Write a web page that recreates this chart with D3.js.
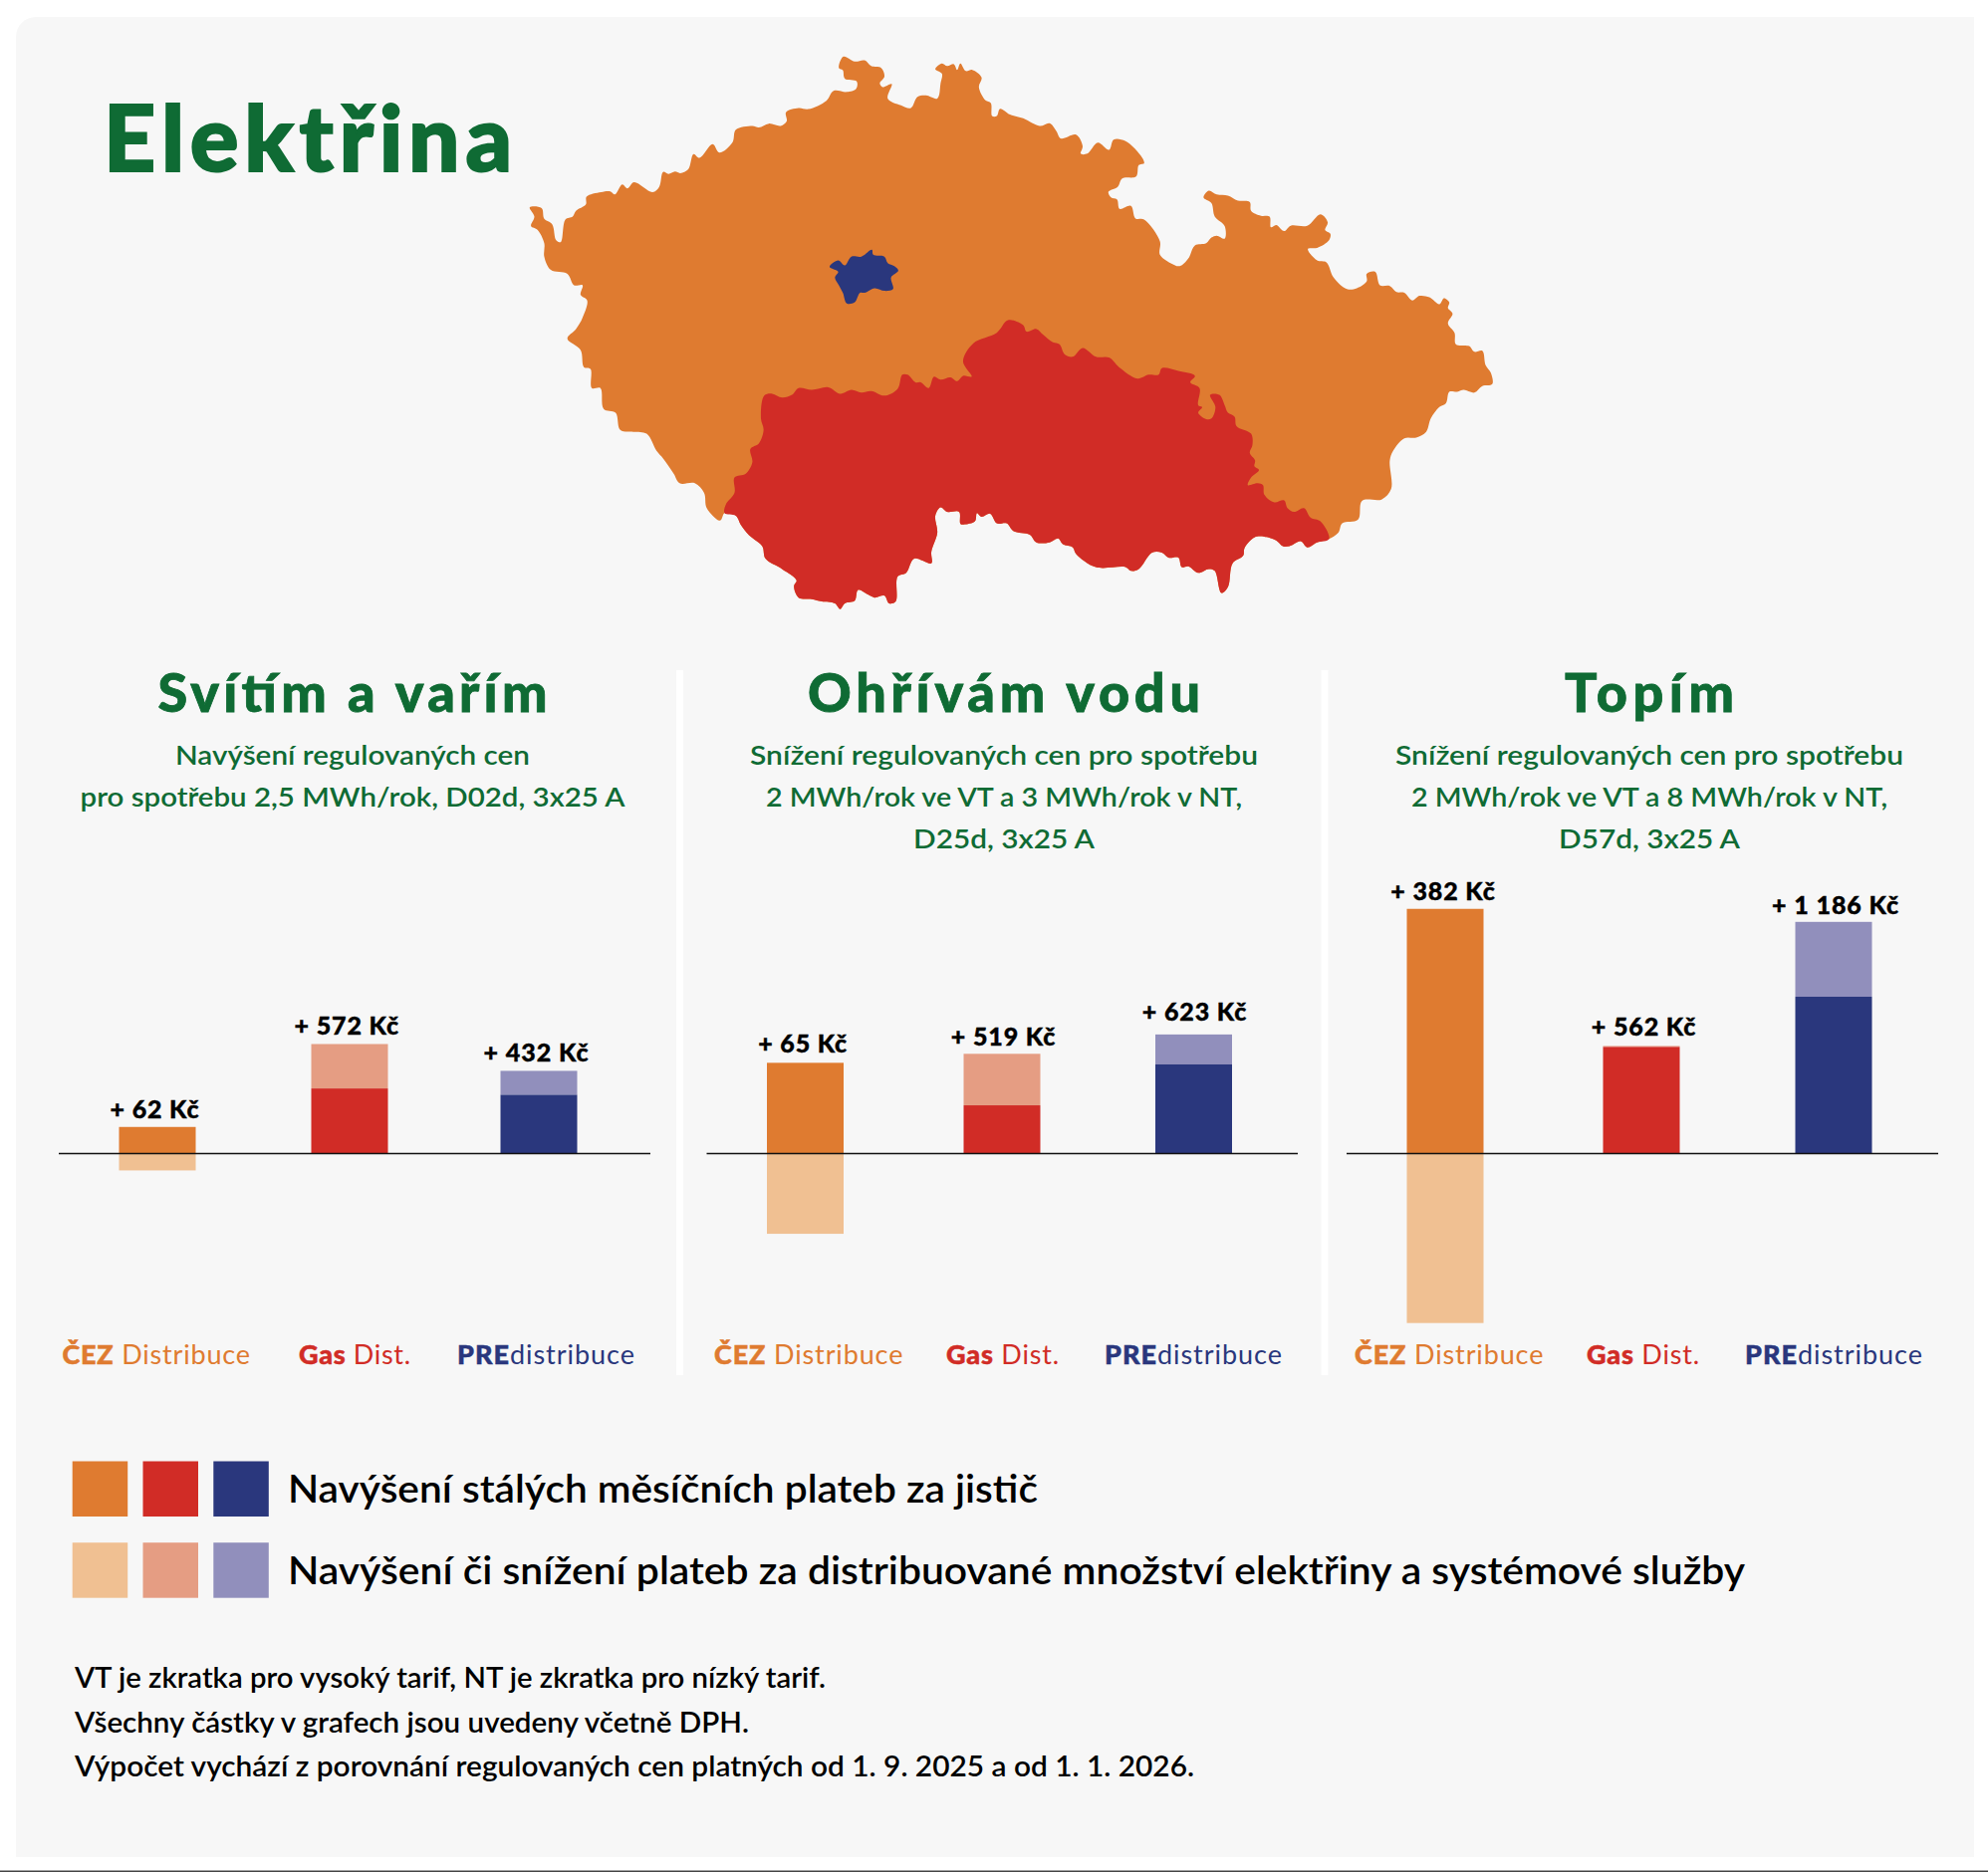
<!DOCTYPE html>
<html>
<head>
<meta charset="utf-8">
<title>Elektřina</title>
<script src="https://d3js.org/d3.v7.min.js"></script>
<style>
  body { margin: 0; background: #fff; }
  svg { display: block; }
  text { font-family: Lato, "Open Sans", sans-serif; }
</style>
</head>
<body>
<svg id="chart" width="1996" height="1880"></svg>
<script>
// chart values (Kč)
var distributors = ["ČEZ", "Gas", "PRE"];
var panelTitles = ["Svítím a vařím", "Ohřívám vodu", "Topím"];
var panelSubtitles = [
  ["Navýšení regulovaných cen", "pro spotřebu 2,5 MWh/rok, D02d, 3x25 A"],
  ["Snížení regulovaných cen pro spotřebu", "2 MWh/rok ve VT a 3 MWh/rok v NT,", "D25d, 3x25 A"],
  ["Snížení regulovaných cen pro spotřebu", "2 MWh/rok ve VT a 8 MWh/rok v NT,", "D57d, 3x25 A"]
];
var fixedValues = [[139, 340, 307], [474, 252, 466], [1278, 557, 819]];
var variableValues = [[-88, 232, 125], [-419, 269, 156], [-885, 5, 391]];
var totalLabels = [["+ 62 Kč", "+ 572 Kč", "+ 432 Kč"], ["+ 65 Kč", "+ 519 Kč", "+ 623 Kč"], ["+ 382 Kč", "+ 562 Kč", "+ 1 186 Kč"]];
var nameBold = ["ČEZ", "Gas", "PRE"];
var nameLight = [" Distribuce", " Dist.", "distribuce"];
var legendLines = ["Navýšení stálých měsíčních plateb za jistič", "Navýšení či snížení plateb za distribuované množství elektřiny a systémové služby"];
var noteLines = ["VT je zkratka pro vysoký tarif, NT je zkratka pro nízký tarif.", "Všechny částky v grafech jsou uvedeny včetně DPH.", "Výpočet vychází z porovnání regulovaných cen platných od 1. 9. 2025 a od 1. 1. 2026."];

// map outlines, traced in a 1568x1568 tracing space
var mapWhole = [[48,466],[66,468],[70,496],[82,510],[88,552],[95,557],[102,498],[113,490],[118,475],[133,458],[134,438],[156,426],[170,424],[177,432],[188,406],[196,416],[206,400],[234,426],[244,412],[250,373],[258,378],[268,372],[276,376],[288,366],[296,326],[305,336],[325,300],[335,322],[355,295],[360,262],[385,252],[395,256],[410,246],[428,252],[437,240],[436,216],[455,205],[470,208],[497,186],[508,160],[528,163],[542,155],[543,135],[525,128],[522,106],[516,100],[523,70],[540,83],[555,80],[565,95],[580,100],[585,122],[578,140],[582,150],[596,142],[590,180],[610,198],[625,205],[635,176],[648,172],[665,180],[670,140],[672,115],[662,103],[672,88],[680,95],[690,90],[695,105],[700,88],[708,108],[718,105],[732,125],[728,150],[738,185],[746,192],[748,226],[755,226],[760,207],[775,222],[795,232],[820,252],[835,245],[845,265],[852,285],[875,275],[885,305],[882,325],[892,325],[908,296],[925,315],[932,288],[950,292],[975,335],[978,350],[970,355],[966,385],[945,390],[938,412],[924,425],[928,440],[937,445],[941,470],[958,462],[965,495],[978,498],[1002,555],[1002,590],[1018,612],[1032,620],[1045,600],[1055,566],[1072,560],[1080,545],[1088,540],[1100,548],[1100,515],[1085,490],[1080,455],[1068,440],[1076,422],[1088,432],[1105,435],[1120,448],[1138,452],[1140,475],[1155,488],[1168,490],[1170,518],[1178,512],[1190,528],[1200,514],[1225,514],[1245,484],[1256,505],[1252,525],[1260,535],[1258,552],[1240,572],[1226,575],[1240,605],[1254,610],[1265,650],[1285,680],[1300,678],[1315,660],[1315,640],[1328,635],[1335,670],[1350,672],[1360,688],[1372,690],[1384,710],[1395,698],[1410,702],[1425,720],[1432,704],[1440,715],[1438,730],[1445,745],[1438,770],[1448,795],[1450,825],[1470,830],[1478,845],[1490,842],[1495,880],[1503,900],[1505,930],[1490,935],[1478,952],[1462,945],[1452,950],[1440,950],[1435,980],[1425,990],[1412,1020],[1405,1055],[1390,1070],[1372,1072],[1355,1105],[1350,1130],[1352,1205],[1338,1232],[1308,1236],[1302,1285],[1278,1295],[1272,1320],[1258,1336],[1240,1345],[1225,1358],[1215,1342],[1198,1355],[1188,1355],[1178,1340],[1160,1330],[1145,1332],[1130,1360],[1128,1380],[1112,1400],[1105,1462],[1095,1478],[1085,1420],[1076,1415],[1060,1425],[1045,1408],[1035,1410],[1030,1385],[1015,1385],[1005,1372],[990,1372],[970,1415],[958,1420],[950,1410],[905,1410],[875,1375],[870,1358],[855,1350],[848,1335],[835,1345],[815,1345],[805,1325],[780,1315],[770,1295],[755,1295],[745,1270],[732,1278],[725,1268],[722,1290],[705,1298],[700,1296],[698,1265],[680,1265],[670,1253],[662,1275],[665,1320],[656,1370],[656,1400],[630,1388],[618,1425],[605,1435],[602,1500],[592,1505],[585,1485],[570,1490],[560,1482],[545,1470],[540,1498],[525,1505],[518,1520],[510,1505],[490,1500],[475,1494],[455,1490],[448,1460],[452,1445],[430,1415],[405,1388],[400,1355],[380,1326],[368,1300],[360,1275],[343,1268],[338,1285],[335,1288],[316,1255],[312,1215],[298,1190],[275,1190],[266,1165],[250,1125],[240,1105],[225,1060],[205,1055],[185,1050],[178,1005],[160,995],[155,940],[142,940],[140,890],[130,885],[125,840],[105,810],[118,785],[128,755],[135,710],[125,695],[128,670],[115,670],[105,640],[80,630],[70,595],[70,560],[60,525],[50,515],[55,490]];
var mapSouth = [[772,762],[795,775],[800,792],[815,785],[825,800],[840,820],[850,825],[858,852],[870,858],[885,835],[905,858],[925,860],[940,885],[968,915],[985,905],[1000,905],[1005,888],[1030,895],[1055,908],[1048,925],[1062,940],[1060,985],[1066,990],[1060,1005],[1072,1022],[1080,1020],[1086,990],[1078,958],[1092,958],[1100,985],[1105,1005],[1115,1015],[1118,1040],[1140,1060],[1142,1090],[1138,1110],[1146,1130],[1145,1145],[1152,1155],[1140,1175],[1135,1195],[1150,1190],[1158,1195],[1160,1220],[1175,1240],[1190,1235],[1195,1255],[1205,1265],[1220,1255],[1230,1280],[1245,1290],[1258,1336],[1240,1345],[1225,1358],[1215,1342],[1198,1355],[1188,1355],[1178,1340],[1160,1330],[1145,1332],[1130,1360],[1128,1380],[1112,1400],[1105,1462],[1095,1478],[1085,1420],[1076,1415],[1060,1425],[1045,1408],[1035,1410],[1030,1385],[1015,1385],[1005,1372],[990,1372],[970,1415],[958,1420],[950,1410],[905,1410],[875,1375],[870,1358],[855,1350],[848,1335],[835,1345],[815,1345],[805,1325],[780,1315],[770,1295],[755,1295],[745,1270],[732,1278],[725,1268],[722,1290],[705,1298],[700,1296],[698,1265],[680,1265],[670,1253],[662,1275],[665,1320],[656,1370],[656,1400],[630,1388],[618,1425],[605,1435],[602,1500],[592,1505],[585,1485],[570,1490],[560,1482],[545,1470],[540,1498],[525,1505],[518,1520],[510,1505],[490,1500],[475,1494],[455,1490],[448,1460],[452,1445],[430,1415],[405,1388],[400,1355],[380,1326],[368,1300],[360,1275],[343,1268],[345,1245],[358,1215],[358,1175],[375,1165],[385,1135],[382,1100],[395,1085],[402,1050],[398,1020],[403,960],[415,955],[430,965],[445,958],[455,940],[475,945],[500,938],[518,955],[535,945],[550,952],[565,948],[585,960],[605,942],[612,905],[620,905],[632,925],[640,925],[652,940],[660,910],[670,918],[685,912],[695,922],[704,908],[717,910],[704,870],[720,822],[755,795]];
var mapPrague = [[566,577],[568,590],[585,595],[590,612],[600,620],[606,632],[595,650],[598,680],[585,685],[570,678],[555,690],[548,690],[540,715],[528,718],[522,690],[516,670],[510,650],[515,635],[502,622],[515,605],[525,618],[535,595],[550,595]];

// colours and layout
var GREEN = "#0f6b34";
var darkColors = ["#df7b30", "#d12c26", "#2a377d"];
var lightColors = ["#f0c092", "#e59d83", "#918fbc"];
var panelCenters = [354, 1008, 1656];
var barCenters = [[158, 351, 541], [808.5, 1006, 1198.5], [1451, 1648, 1841]];
var labelCenters = [[155, 347.8, 538], [805.7, 1007, 1199], [1448.5, 1650, 1842.5]];
var labelWidths = [[89, 104.5, 105], [89, 104.6, 104.6], [104.6, 104.6, 127]];
var labelGaps = [[9.2, 9.2, 9.2], [10.5, 8.2, 13.5], [9.2, 10.1, 7.7]];
var axisExtents = [[59, 653], [709.5, 1303], [1352, 1946]];
var nameExtents = [[[62.5, 251], [300, 412], [459, 637]], [[717, 906.4], [950, 1063], [1109, 1287]], [[1360, 1549.4], [1593, 1706], [1752, 1930]]];
var titleWidths = [391, 394, 170];
var subWidths = [[356, 547], [510, 478, 182], [510, 478, 182]];

var svg = d3.select("#chart");

// card background, only the top-left corner is round
svg.append("path").attr("d", "M16,37 A20,20 0 0 1 36,17 H1982 V1865 H16 Z").attr("fill", "#f7f7f7");
svg.append("rect").attr("x", 0).attr("y", 1878.5).attr("width", 1996).attr("height", 1.5).attr("fill", "#444");

// map
var mapX = d3.scaleLinear().domain([0, 1568]).range([500, 1540]);
var mapY = d3.scaleLinear().domain([0, 1568]).range([30, 630]);
var mapLine = d3.line().x(function (d) { return mapX(d[0]); }).y(function (d) { return mapY(d[1]); })
  .curve(d3.curveCatmullRomClosed.alpha(0.5));
svg.append("path").attr("d", mapLine(mapWhole)).attr("fill", darkColors[0]);
svg.append("path").attr("d", mapLine(mapSouth)).attr("fill", darkColors[1]);
svg.append("path").attr("d", mapLine(mapPrague)).attr("fill", darkColors[2]);

// heading
svg.append("text").attr("x", 104).attr("y", 172).attr("font-size", 91).attr("font-weight", 900)
  .attr("fill", GREEN).attr("stroke", GREEN).attr("stroke-width", 2)
  .attr("textLength", 410).attr("lengthAdjust", "spacing").text("Elektřina");

// dividers
[679, 1326.5].forEach(function (x) {
  svg.append("rect").attr("x", x).attr("y", 673).attr("width", 7).attr("height", 708).attr("fill", "#fff");
});

// value scale, shared by all three panels
var y = d3.scaleLinear().domain([0, 1000]).range([1158.5, 966.2]);
var BAR_W = 77;

panelTitles.forEach(function (title, p) {
  var g = svg.append("g");
  g.append("text").attr("x", panelCenters[p]).attr("y", 715).attr("text-anchor", "middle")
    .attr("font-size", 54).attr("font-weight", 900).attr("fill", GREEN)
    .attr("stroke", GREEN).attr("stroke-width", 0.8)
    .attr("textLength", titleWidths[p]).attr("lengthAdjust", "spacing").text(title);

  g.selectAll("text.sub").data(panelSubtitles[p]).enter().append("text").attr("class", "sub")
    .attr("x", panelCenters[p]).attr("y", function (d, i) { return 768 + i * 42; })
    .attr("text-anchor", "middle").attr("font-size", 27.5).attr("font-weight", 600).attr("fill", GREEN)
    .attr("textLength", function (d, i) { return subWidths[p][i]; }).attr("lengthAdjust", "spacingAndGlyphs")
    .text(function (d) { return d; });

  var x = d3.scaleOrdinal().domain(distributors).range(barCenters[p]);

  distributors.forEach(function (name, i) {
    var cx = x(name), fixed = fixedValues[p][i], vari = variableValues[p][i];
    var start = vari >= 0 ? fixed : 0;
    var top = Math.max(fixed, start + vari);
    g.append("rect").attr("x", cx - BAR_W / 2).attr("width", BAR_W)
      .attr("y", y(Math.max(start, start + vari))).attr("height", Math.abs(y(start + vari) - y(start)))
      .attr("fill", lightColors[i]);
    g.append("rect").attr("x", cx - BAR_W / 2).attr("width", BAR_W)
      .attr("y", y(fixed)).attr("height", y(0) - y(fixed)).attr("fill", darkColors[i]);
    g.append("text").attr("x", labelCenters[p][i]).attr("y", y(top) - labelGaps[p][i]).attr("text-anchor", "middle")
      .attr("font-size", 25).attr("font-weight", 900).attr("fill", "#000").attr("stroke", "#000").attr("stroke-width", 0.4)
      .attr("textLength", labelWidths[p][i]).attr("lengthAdjust", "spacing").text(totalLabels[p][i]);

    var ext = nameExtents[p][i];
    var t = g.append("text").attr("x", ext[0]).attr("y", 1370).attr("font-size", 27).attr("fill", darkColors[i])
      .attr("textLength", ext[1] - ext[0]).attr("lengthAdjust", "spacing").attr("xml:space", "preserve")
      .style("white-space", "pre");
    t.append("tspan").attr("font-weight", 900).attr("stroke", darkColors[i]).attr("stroke-width", 0.5).text(nameBold[i]);
    t.append("tspan").attr("font-weight", 400).text(nameLight[i]);
  });

  g.append("line").attr("x1", axisExtents[p][0]).attr("x2", axisExtents[p][1])
    .attr("y1", y(0)).attr("y2", y(0)).attr("stroke", "#111").attr("stroke-width", 1.5);
});

// legend
[darkColors, lightColors].forEach(function (colors, row) {
  colors.forEach(function (c, i) {
    svg.append("rect").attr("x", 72.7 + i * 70.8).attr("y", 1467.5 + row * 81.7)
      .attr("width", 55.5).attr("height", 55.5).attr("fill", c);
  });
});
var legendWidths = [753, 1463];
legendLines.forEach(function (line, i) {
  svg.append("text").attr("x", 289).attr("y", 1509 + i * 82).attr("font-size", 39).attr("font-weight", 600)
    .attr("fill", "#000").attr("textLength", legendWidths[i]).attr("lengthAdjust", "spacingAndGlyphs").text(line);
});

// notes
var noteWidths = [754, 677, 1124];
noteLines.forEach(function (line, i) {
  svg.append("text").attr("x", 75).attr("y", 1695 + i * 44.5).attr("font-size", 28.5).attr("font-weight", 600)
    .attr("fill", "#000").attr("textLength", noteWidths[i]).attr("lengthAdjust", "spacingAndGlyphs").text(line);
});
</script>
</body>
</html>
